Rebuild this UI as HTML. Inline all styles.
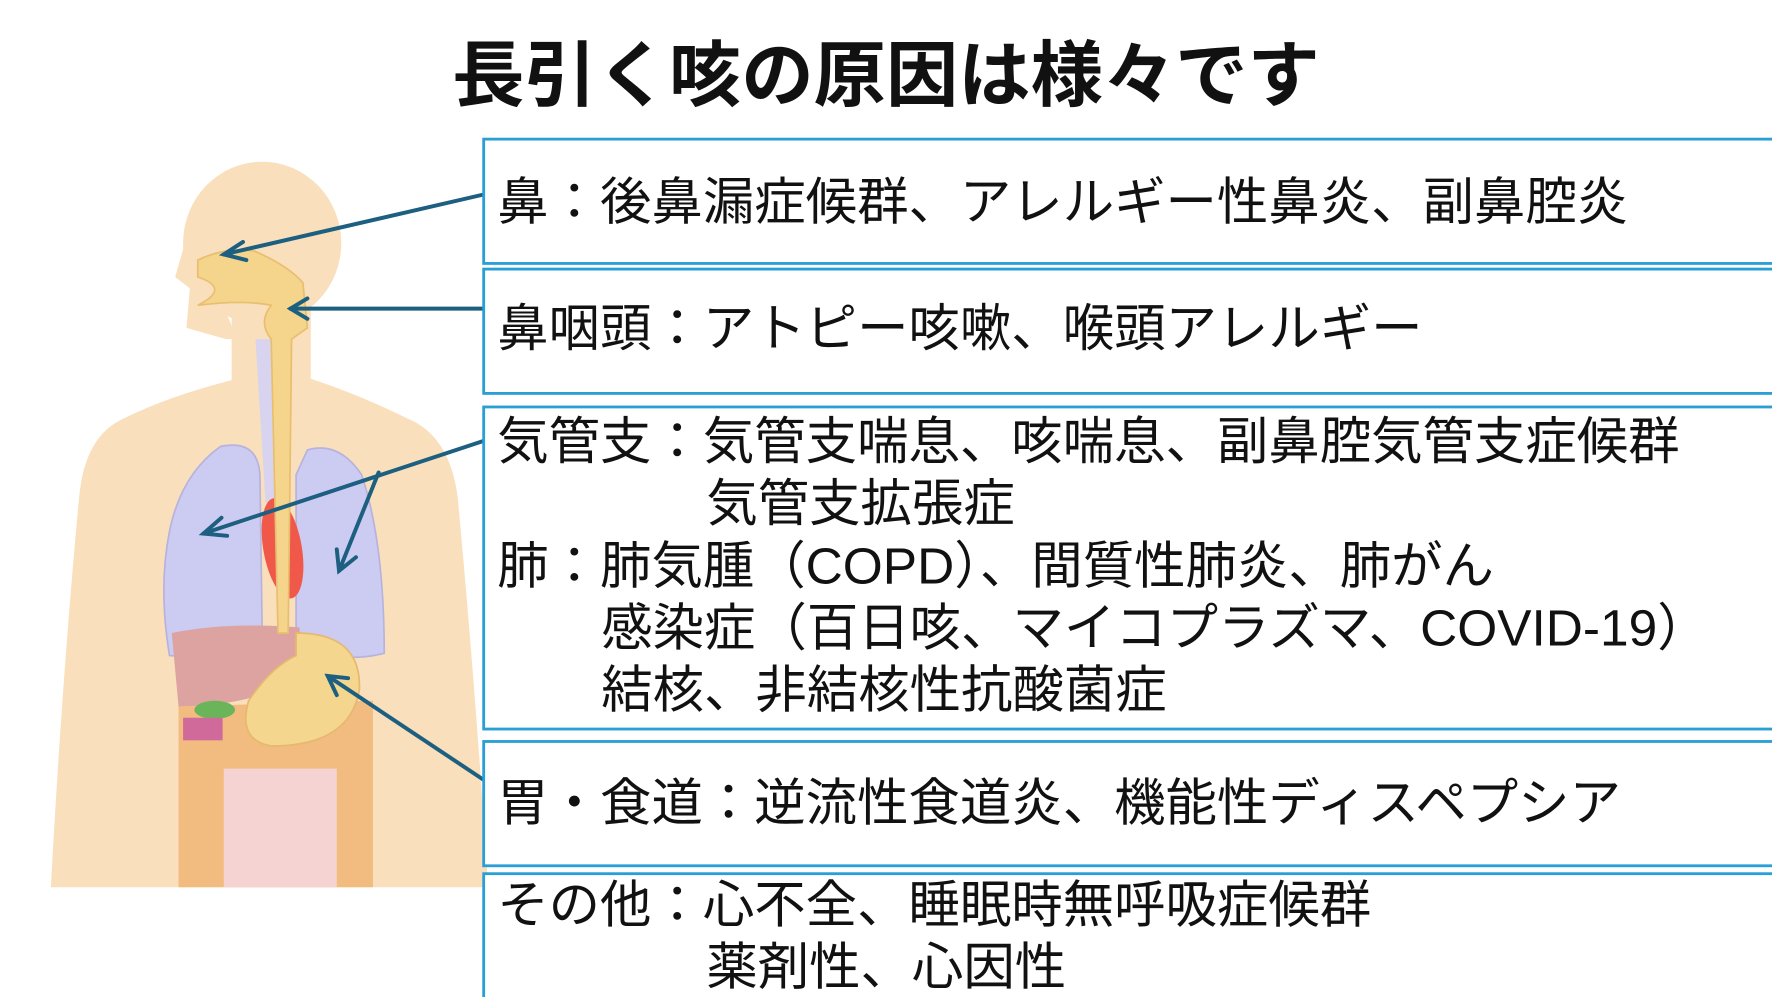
<!DOCTYPE html>
<html><head><meta charset="utf-8"><style>
html,body{margin:0;padding:0;background:#fff;}
svg{display:block;}
text{font-family:"Liberation Sans","Noto Sans CJK JP",sans-serif;}
</style></head><body>
<svg width="1772" height="997" viewBox="0 0 1568 882" xmlns="http://www.w3.org/2000/svg">
<rect width="1568" height="882" fill="#fff"/>
<text x="784" y="89" text-anchor="middle" font-size="64" font-weight="bold" fill="#111">長引く咳の原因は様々です</text>
<g fill="#f9dfbb">
<ellipse cx="232" cy="215" rx="70" ry="72"/>
<path d="M168 200 L155 245 L168 255 L165 290 L200 300 L210 300 Z"/>
<rect x="205" y="270" width="70" height="80"/>
<path d="M210 335 Q150 350 110 370 Q75 385 70 440 Q55 600 45 785 L432 785 Q420 600 405 440 Q398 385 360 370 Q320 350 275 335 Z"/>
</g>
<path d="M195 395 Q228 388 230 420 L232 560 Q210 585 150 580 Q140 520 150 470 Q160 420 195 395 Z" fill="#cccbf2" stroke="#b7b3dc" stroke-width="1.5"/>
<path d="M272 398 Q300 390 320 420 Q340 480 340 578 Q300 588 262 570 L262 420 Z" fill="#cccbf2" stroke="#b7b3dc" stroke-width="1.5"/>
<path d="M226 300 L242 300 L250 440 L235 445 Z" fill="#d8d4ef"/>
<path d="M152 560 Q200 550 265 555 L268 600 Q220 625 158 625 Z" fill="#dca3a0"/>
<path d="M158 625 L330 620 L330 785 L158 785 Z" fill="#f2bb80"/>
<rect x="198" y="680" width="100" height="105" fill="#f6d3d3"/>
<path d="M262 560 Q320 560 318 610 Q310 660 240 660 Q210 655 220 620 Q240 590 262 580 Z" fill="#f4d68e" stroke="#e6b870" stroke-width="1.5"/>
<ellipse cx="190" cy="628" rx="18" ry="8" fill="#6ab55a"/>
<rect x="162" y="635" width="35" height="20" fill="#d06a9a"/>
<ellipse cx="250" cy="485" rx="17" ry="45" transform="rotate(-10 250 485)" fill="#f0584a"/>
<path d="M175 230 Q200 218 225 222 Q255 235 268 250 L272 290 L258 300 L255 560 L246 560 L240 300 Q228 285 240 270 Q215 265 175 270 Q205 255 175 245 Z" fill="#f5d58c" stroke="#e8bf6e" stroke-width="1.5"/>
<g stroke="#1d5f80" stroke-width="3.5" fill="none" stroke-linecap="round">
<line x1="428" y1="172" x2="198" y2="225"/>
<polyline points="215,214 198,225 218,230"/>
<line x1="428" y1="273" x2="257" y2="273"/>
<polyline points="272,264 257,273 272,282"/>
<line x1="428" y1="390" x2="180" y2="472"/>
<polyline points="196,458 180,472 201,474"/>
<line x1="335" y1="418" x2="300" y2="505"/>
<polyline points="298,486 300,505 315,493"/>
<line x1="428" y1="690" x2="290" y2="598"/>
<polyline points="308,600 290,598 298,615"/>
</g>
<g fill="#fff" stroke="#2a9fd6" stroke-width="2.5">
<rect x="428" y="123" width="1145" height="110"/>
<rect x="428" y="238" width="1145" height="110"/>
<rect x="428" y="360" width="1145" height="285"/>
<rect x="428" y="656" width="1145" height="110"/>
<rect x="428" y="773" width="1145" height="120"/>
</g>
<g font-size="45.5" fill="#111">
<text x="440" y="194">鼻：後鼻漏症候群、アレルギー性鼻炎、副鼻腔炎</text>
<text x="440" y="306">鼻咽頭：アトピー咳嗽、喉頭アレルギー</text>
<text x="440" y="406">気管支：気管支喘息、咳喘息、副鼻腔気管支症候群</text>
<text x="625" y="461">気管支拡張症</text>
<text x="440" y="516">肺：肺気腫（COPD）、間質性肺炎、肺がん</text>
<text x="532" y="571">感染症（百日咳、マイコプラズマ、COVID-19）</text>
<text x="532" y="626">結核、非結核性抗酸菌症</text>
<text x="440" y="726">胃・食道：逆流性食道炎、機能性ディスペプシア</text>
<text x="440" y="816">その他：心不全、睡眠時無呼吸症候群</text>
<text x="625" y="871">薬剤性、心因性</text>
</g>
</svg>
</body></html>
